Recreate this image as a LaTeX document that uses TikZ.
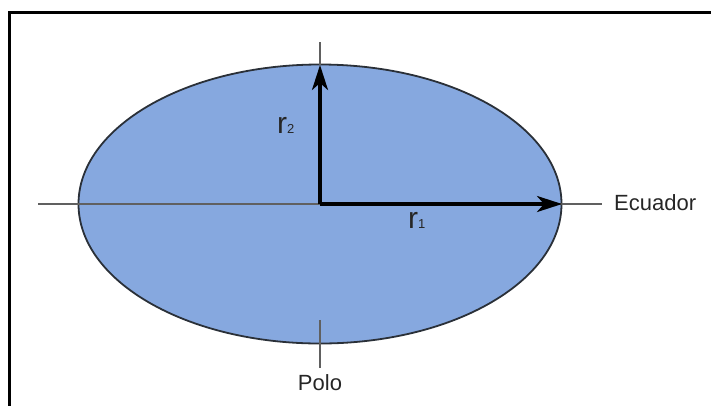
\documentclass[tikz,border=0pt]{standalone}
\usepackage{fontspec}
\setmainfont{Liberation Sans}
\usetikzlibrary{positioning,arrows.meta}
\definecolor{earth}{HTML}{86A8DF}
\definecolor{rim}{HTML}{2A3038}
\definecolor{axisgray}{HTML}{606060}

\begin{document}
\begin{tikzpicture}[x=1pt,y=-1pt,
  axisline/.style={axisgray,line width=2pt},
  radius arrow/.style={line width=3.2pt,-{Stealth[length=25pt,width=16pt,inset=7pt]}},
  label/.style={inner sep=0pt,text=black!85,font=\fontsize{22}{22}\selectfont}]
\useasboundingbox (0,0) rectangle (711,405);
% Frame
\draw[line width=3pt] (9,406) -- (9,12.5) -- (712,12.5);
% Ellipse
\coordinate (O) at (320,204);
\filldraw[fill=earth,draw=rim,line width=1.8pt] (O) ellipse [x radius=241.5, y radius=139.5];
\coordinate (r1end) at (562,204);
\coordinate (r2end) at (320,65);
% Axes
\coordinate (ecW) at (38,204);
\coordinate (ecE) at (602,204);
\coordinate (poN) at (320,42);
\coordinate (poS1) at (320,320);
\coordinate (poS2) at (320,368);
\draw[axisline] (ecW) -- (ecE);
\draw[axisline] (poN) -- (r2end);
\draw[axisline] (poS1) -- (poS2);
% Radii
\draw[radius arrow] (O) -- (r1end);
\draw[radius arrow] (O) -- (r2end);
\node[label,anchor=base west] (r2) at (277,133)
  {{\fontsize{30}{30}\selectfont r}{\fontsize{13}{13}\selectfont 2}};
\node[label,anchor=base west] (r1) at (408,228)
  {{\fontsize{30}{30}\selectfont r}{\fontsize{13}{13}\selectfont 1}};
\node[label,anchor=base west] (ecuador) at (614,210) {Ecuador};
\node[label,anchor=base] (polo) at (320,390) {Polo};
\end{tikzpicture}
\end{document}
